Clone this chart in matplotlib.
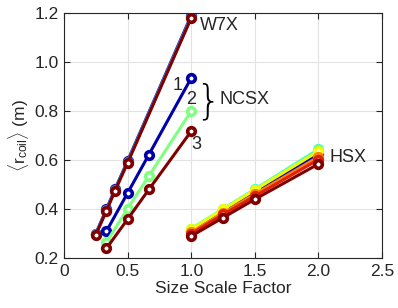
import matplotlib
matplotlib.use("Agg")
import matplotlib.pyplot as plt

plt.rcParams['font.family'] = ['Liberation Sans', 'DejaVu Sans']
plt.rcParams['mathtext.fontset'] = 'custom'
plt.rcParams['mathtext.rm'] = 'Liberation Sans'
plt.rcParams['mathtext.it'] = 'Liberation Sans'

# W7X
w7x_x = [0.25, 1/3, 0.4, 0.5, 1.0]
w7x_series = [
    [0.300, 0.400, 0.480, 0.597, 1.190],
    [0.299, 0.398, 0.478, 0.594, 1.186],
    [0.296, 0.393, 0.474, 0.589, 1.180],
]
w7x_colors = ['#0000a8', '#3a8fe0', '#800000']

# NCSX
ncsx_x = [1/3, 0.5, 2/3, 1.0]
ncsx_series = [
    [0.310, 0.466, 0.622, 0.935],
    [0.265, 0.402, 0.535, 0.800],
    [0.240, 0.359, 0.480, 0.718],
]
ncsx_colors = ['#0000a8', '#80ff80', '#800000']
ncsx_labels = ['1', '2', '3']

# HSX
hsx_x = [1.0, 1.25, 1.5, 2.0]
hsx_series = [
    [0.310, 0.392, 0.470, 0.625],
    [0.320, 0.401, 0.481, 0.644],
    [0.318, 0.399, 0.478, 0.636],
    [0.305, 0.384, 0.461, 0.613],
    [0.300, 0.378, 0.453, 0.602],
    [0.290, 0.365, 0.440, 0.584],
]
hsx_colors = ['#0000d0', '#40ffc0', '#f0ff00', '#ff8000', '#e02000', '#800000']

fig = plt.figure(figsize=(3.98, 3.08), dpi=100)
ax = fig.add_axes([0.161, 0.162, 0.799, 0.796])

def draw(xs, series, colors):
    for ys, c in zip(series, colors):
        ax.plot(xs, ys, '-o', color=c, lw=2.2, ms=5.5, mew=2.6, mfc='white', mec=c)

draw(hsx_x, hsx_series, hsx_colors)
draw(w7x_x, w7x_series, w7x_colors)
draw(ncsx_x, ncsx_series, ncsx_colors)

ax.set_xlim(0, 2.5)
ax.set_ylim(0.2, 1.2)
ax.set_xticks([0, 0.5, 1.0, 1.5, 2.0, 2.5])
ax.set_xticklabels(['0', '0.5', '1.0', '1.5', '2.0', '2.5'])
ax.set_yticks([0.2, 0.4, 0.6, 0.8, 1.0, 1.2])
ax.set_yticklabels(['0.2', '0.4', '0.6', '0.8', '1.0', '1.2'])
ax.grid(True, color='#e3e3e3', lw=0.8)
ax.set_axisbelow(True)
ax.tick_params(direction='in', top=True, right=True, labelsize=12.5, length=4,
               color='#262626', labelcolor='#262626', width=0.8, pad=4)
for s in ax.spines.values():
    s.set_color('#262626')
    s.set_linewidth(0.8)

ax.set_xlabel('Size Scale Factor', fontsize=12.5, color='#262626', labelpad=2)
ax.set_ylabel(r'$\langle\mathrm{r_{coil}}\rangle$ (m)', fontsize=12.5, color='#262626', labelpad=2)

tk = dict(color='#262626', fontsize=13)
ax.text(1.07, 1.147, 'W7X', va='center', ha='left', **tk)
ax.text(1.22, 0.845, 'NCSX', va='center', ha='left', **tk)
ax.text(1.13, 0.838, '}', va='center', ha='center', fontsize=29, color='black',
        family='DejaVu Sans', fontweight='light')
ax.text(2.09, 0.612, 'HSX', va='center', ha='left', **tk)
ax.text(0.89, 0.905, '1', va='center', ha='center', **tk)
ax.text(0.995, 0.845, '2', va='center', ha='center', **tk)
ax.text(1.04, 0.665, '3', va='center', ha='center', **tk)

fig.savefig('out.png', dpi=100)
